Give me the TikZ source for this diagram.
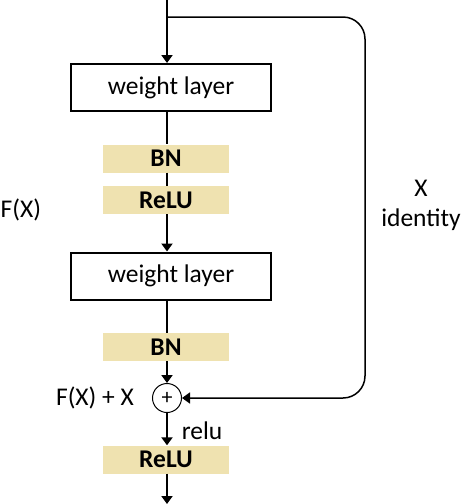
\documentclass[tikz,border=0pt]{standalone}
\usepackage{fontspec}
\setmainfont{Carlito}
\usetikzlibrary{arrows.meta}
\definecolor{bnfill}{RGB}{239,226,176}
\newcommand{\diagfont}{\fontsize{25.5}{30}\selectfont}
\tikzset{
  layer/.style={draw,line width=2pt,minimum width=200pt,minimum height=47pt,inner sep=0pt},
  norm/.style={fill=bnfill,minimum width=126pt,minimum height=28pt,inner sep=0pt,font=\diagfont\bfseries},
  flow/.style={line width=2pt,-{Triangle[width=11pt,length=8pt]}},
}

\begin{document}
\begin{tikzpicture}[x=1pt,y=-1pt,font=\diagfont]
  \useasboundingbox (0,0) rectangle (462,504);
  \coordinate (in) at (167,0);
  \coordinate (split) at (167,17);
  \coordinate (skip) at (365,17);
  \coordinate (out) at (167,504);

  \node[layer] (wl1) at (171,87.5) {weight layer};
  \node[norm] (bn1) at (166,158.5) {BN};
  \node[norm] (relu1) at (166,200) {ReLU};
  \node[layer] (wl2) at (171,276) {weight layer};
  \node[norm] (bn2) at (166,347) {BN};
  \node[circle,draw,line width=1pt,minimum size=29pt,inner sep=0pt,font=\fontsize{22}{24}\selectfont] (sum) at (167,398) {+};
  \node[norm] (relu2) at (166,459.5) {ReLU};

  \draw[flow] (in) -- (wl1.north -| in);
  \draw[line width=2pt] (wl1.south -| in) -- (bn1.north -| in);
  \draw[line width=2pt] (bn1.south -| in) -- (relu1.north -| in);
  \draw[flow] (relu1.south -| in) -- (wl2.north -| in);
  \draw[line width=2pt] (wl2.south -| in) -- (bn2.north -| in);
  \draw[flow] (bn2.south -| in) -- (sum);
  \draw[flow] (sum) -- (relu2.north -| in);
  \draw[flow] (relu2.south -| in) -- (out);
  \draw[line width=1.5pt,rounded corners=22pt,-{Triangle[width=11pt,length=8pt]}] (split) -- (skip) -- (skip |- sum) -- (sum);

  \node[inner sep=0pt,anchor=west] (fx) at (0.5,210) {F(X)};
  \node (fxx) at (95,398) {F(X) + X};
  \node (relu) at (202,431) {relu};
  \node[align=center] (ident) at (421,205) {X\\identity};
\end{tikzpicture}
\end{document}
